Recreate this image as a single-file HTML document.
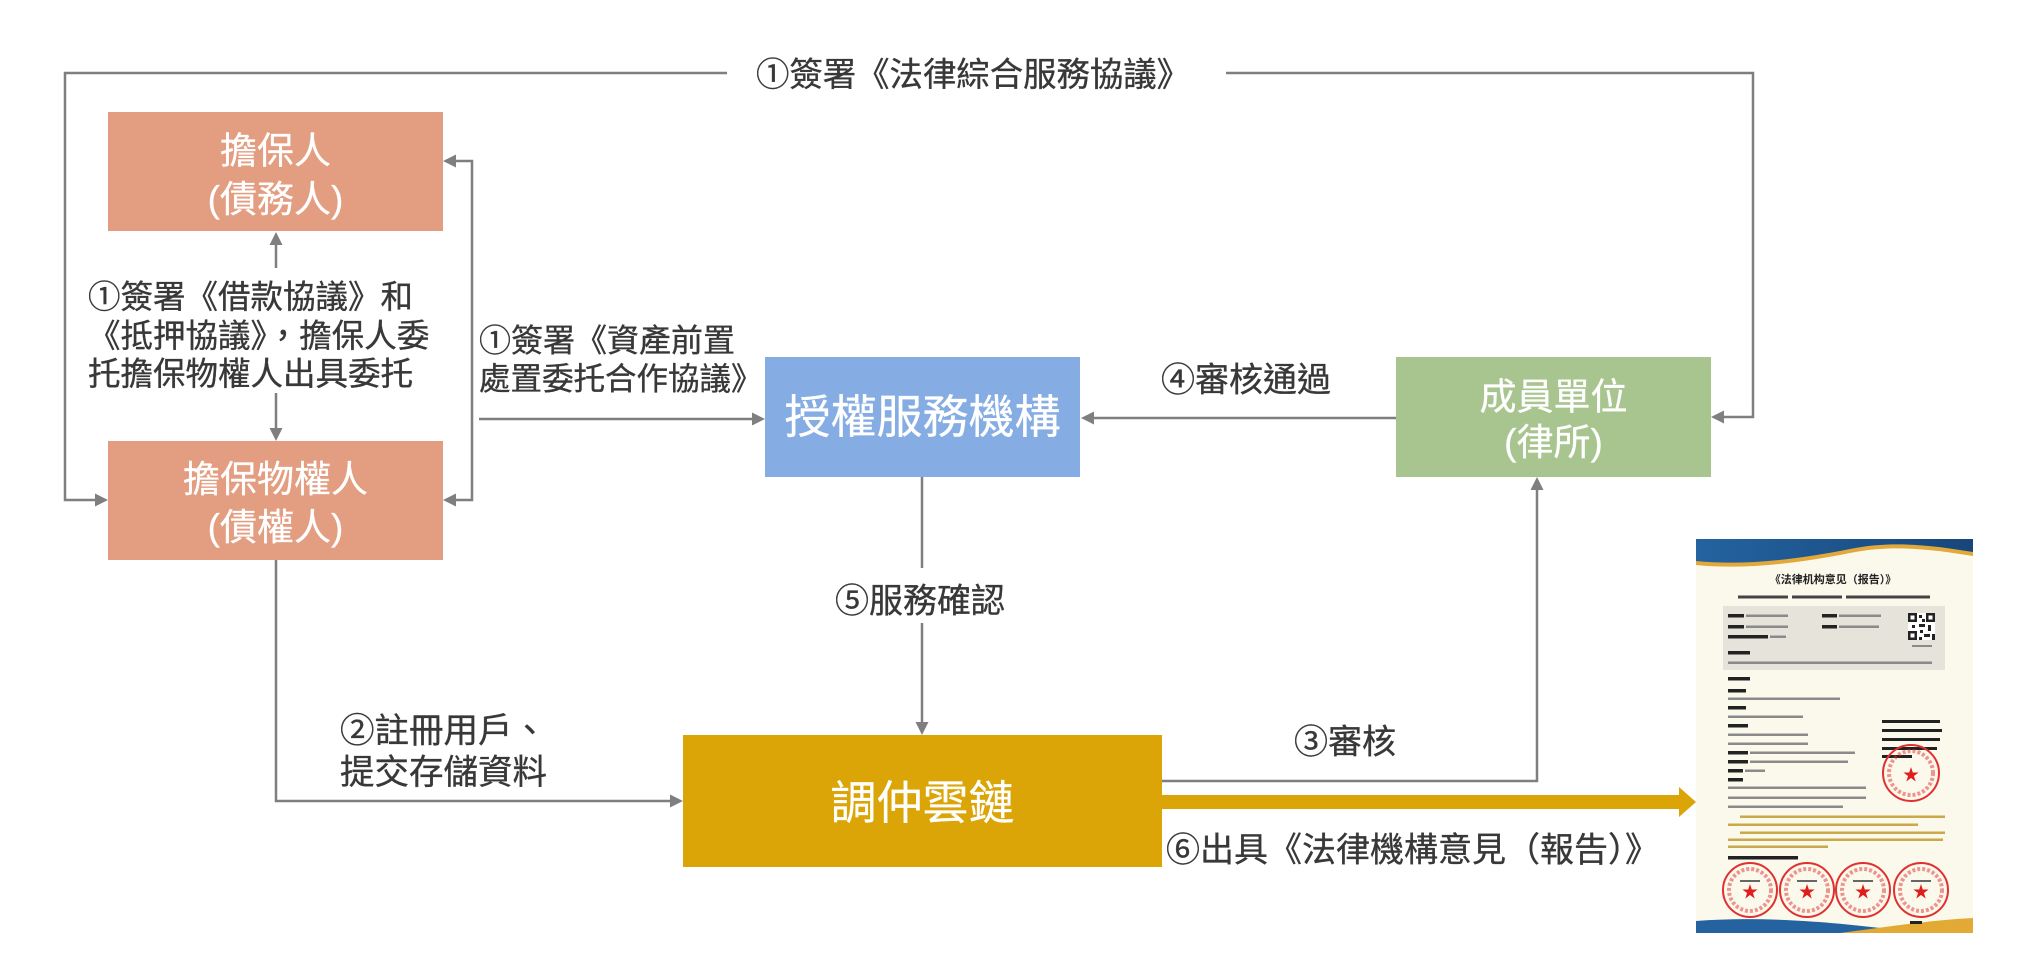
<!DOCTYPE html>
<html><head><meta charset="utf-8">
<style>
html,body{margin:0;padding:0;background:#fff;}
body{width:2036px;height:976px;overflow:hidden;}
svg{display:block;}
.lbl{font-family:"Liberation Sans","Noto Sans CJK TC",sans-serif;fill:#383838;stroke:#383838;stroke-width:0.35;}
.bx{font-family:"Liberation Sans","Noto Sans CJK TC",sans-serif;fill:#ffffff;stroke:#ffffff;stroke-width:0.3;}
</style></head>
<body>
<svg width="2036" height="976" viewBox="0 0 2036 976" xmlns="http://www.w3.org/2000/svg">
<defs>
<polygon id="star" points="0,-8 1.8,-2.48 7.61,-2.47 2.91,0.95 4.7,6.47 0,3.06 -4.7,6.47 -2.91,0.95 -7.61,-2.47 -1.8,-2.48" fill="#e01d1d"/>
<linearGradient id="bl" x1="0" y1="0" x2="1" y2="0"><stop offset="0" stop-color="#2463a0"/><stop offset="1" stop-color="#17467a"/></linearGradient>
</defs>

<!-- connectors -->
<g stroke="#7f7f7f" stroke-width="2.5" fill="none">
  <polyline points="727,73 65,73 65,500 97,500"/>
  <polyline points="1226,73 1753,73 1753,417 1722,417"/>
  <line x1="276" y1="268" x2="276" y2="243"/>
  <line x1="276" y1="393" x2="276" y2="430"/>
  <polyline points="454,161 472,161 472,500 454,500"/>
  <line x1="479" y1="419" x2="754" y2="419"/>
  <line x1="1396" y1="418" x2="1092" y2="418"/>
  <line x1="922" y1="477" x2="922" y2="568"/>
  <line x1="922" y1="623" x2="922" y2="724"/>
  <polyline points="276,560 276,801 672,801"/>
  <polyline points="1162,781 1537,781 1537,488"/>
</g>
<g fill="#7f7f7f">
  <polygon points="276,232 269.5,245 282.5,245"/>
  <polygon points="276,441 269.5,428 282.5,428"/>
  <polygon points="443,161 456,154.5 456,167.5"/>
  <polygon points="443,500 456,493.5 456,506.5"/>
  <polygon points="108,500 95,493.5 95,506.5"/>
  <polygon points="1711,417 1724,410.5 1724,423.5"/>
  <polygon points="765,419 752,412.5 752,425.5"/>
  <polygon points="1081,418 1094,411.5 1094,424.5"/>
  <polygon points="922,735 915.5,722 928.5,722"/>
  <polygon points="683,801 670,794.5 670,807.5"/>
  <polygon points="1537,477 1530.5,490 1543.5,490"/>
</g>

<!-- boxes -->
<rect x="108" y="112" width="335" height="119" fill="#e39d80"/>
<rect x="108" y="441" width="335" height="119" fill="#e39d80"/>
<rect x="765" y="357" width="315" height="120" fill="#86ade3"/>
<rect x="1396" y="357" width="315" height="120" fill="#a9c58f"/>
<rect x="683" y="735" width="479" height="132" fill="#dba508"/>

<!-- gold arrow -->
<rect x="1162" y="795" width="519" height="14" fill="#dba508"/>
<polygon points="1679,787 1696,802 1679,817" fill="#dba508"/>

<!-- box texts -->
<g class="bx" text-anchor="middle">
  <text x="275.5" y="163.5" font-size="37">擔保人</text>
  <text x="275.5" y="212" font-size="37">(債務人)</text>
  <text x="275.5" y="492" font-size="37">擔保物權人</text>
  <text x="275.5" y="540" font-size="37">(債權人)</text>
  <text x="922.5" y="433" font-size="46">授權服務機構</text>
  <text x="1553.5" y="409.5" font-size="37">成員單位</text>
  <text x="1553.5" y="455" font-size="37">(律所)</text>
  <text x="922.5" y="819" font-size="46">調仲雲鏈</text>
</g>

<!-- labels -->
<g class="lbl">
  <text x="756" y="86" font-size="33.4">①簽署《法律綜合服務協議》</text>
  <text x="88" y="308" font-size="32.5">①簽署《借款協議》和</text>
  <text x="88" y="347" font-size="32.5">《抵押協議》，擔保人委</text>
  <text x="88" y="385" font-size="32.5">托擔保物權人出具委托</text>
  <text x="479" y="351.5" font-size="32">①簽署《資產前置</text>
  <text x="479" y="389.5" font-size="31.5">處置委托合作協議》</text>
  <text x="1161" y="391.5" font-size="34">④審核通過</text>
  <text x="920" y="612.5" font-size="34" text-anchor="middle">⑤服務確認</text>
  <text x="340" y="742.5" font-size="34.5">②註冊用戶、</text>
  <text x="340" y="784" font-size="34.5">提交存儲資料</text>
  <text x="1294" y="753.5" font-size="34">③審核</text>
  <text x="1166" y="861.5" font-size="34">⑥出具《法律機構意見（報告）》</text>
</g>

<!-- document -->
<g>
  <rect x="1696" y="539" width="277" height="394" fill="#fbf8ec"/>
  <path d="M1696,539 H1973 V556 C1935,550 1895,544 1850,553 C1800,563 1745,570 1696,565 Z" fill="#e0a93a"/>
  <path d="M1696,539 H1973 V552 C1935,546 1895,540 1850,549 C1800,559 1745,566 1696,561 Z" fill="url(#bl)"/>
  <path d="M1696,921 C1760,916 1830,922 1880,928 C1915,932 1945,930 1973,926 V933 H1696 Z" fill="#2463a0"/>
  <path d="M1840,933 C1880,928 1930,920 1973,918 V933 Z" fill="#e2a934"/>
  <text x="1833" y="583" font-size="11" font-weight="bold" text-anchor="middle" fill="#222" font-family="'Liberation Sans','Noto Sans CJK SC',sans-serif">《法律机构意见（报告）》</text>
  <g fill="#444">
    <rect x="1738" y="595.5" width="50" height="3"/>
    <rect x="1792" y="595.5" width="50" height="3"/>
    <rect x="1846" y="595.5" width="84" height="3"/>
  </g>
  <rect x="1723" y="606" width="222" height="64" fill="#e6e3da"/>
  <g fill="#222">
    <rect x="1728" y="614" width="16" height="3.5"/><rect x="1822" y="614" width="15" height="3.5"/>
    <rect x="1728" y="625" width="16" height="3.5"/><rect x="1822" y="625" width="15" height="3.5"/>
    <rect x="1728" y="635" width="40" height="3.5"/>
    <rect x="1728" y="651" width="22" height="3.5"/>
  </g>
  <g fill="#8a8a8a">
    <rect x="1746" y="614.5" width="42" height="2.5"/><rect x="1839" y="614.5" width="42" height="2.5"/>
    <rect x="1746" y="625.5" width="42" height="2.5"/><rect x="1839" y="625.5" width="40" height="2.5"/>
    <rect x="1770" y="635.5" width="16" height="2.5"/>
    <rect x="1728" y="661.5" width="204" height="2.5"/>
    <rect x="1912" y="645" width="20" height="2"/>
  </g>
  <rect x="1908" y="613" width="27" height="27" fill="#fff"/>
  <g fill="#222">
    <rect x="1908" y="613" width="9" height="9"/><rect x="1926" y="613" width="9" height="9"/><rect x="1908" y="631" width="9" height="9"/>
    <rect x="1919" y="615" width="3" height="3"/><rect x="1922" y="619" width="3" height="3"/><rect x="1919" y="624" width="6" height="3"/>
    <rect x="1912" y="625" width="3" height="3"/><rect x="1928" y="625" width="3" height="6"/><rect x="1920" y="630" width="3" height="3"/>
    <rect x="1924" y="634" width="6" height="3"/><rect x="1932" y="634" width="3" height="6"/><rect x="1919" y="637" width="3" height="3"/>
  </g>
  <g fill="#fff"><rect x="1910.5" y="615.5" width="4" height="4"/><rect x="1928.5" y="615.5" width="4" height="4"/><rect x="1910.5" y="633.5" width="4" height="4"/></g>
  <g fill="#222">
    <rect x="1728" y="677" width="22" height="3.5"/>
    <rect x="1728" y="689" width="18" height="3.5"/>
    <rect x="1728" y="706" width="18" height="3.5"/>
    <rect x="1728" y="724" width="20" height="3.5"/>
    <rect x="1728" y="751" width="20" height="3.5"/>
    <rect x="1728" y="760" width="20" height="3.5"/>
    <rect x="1728" y="769" width="15" height="3.5"/>
    <rect x="1728" y="778" width="15" height="3.5"/>
    <rect x="1728" y="856" width="70" height="3.5"/>
    <rect x="1882" y="720" width="58" height="3"/>
    <rect x="1882" y="729" width="60" height="3"/>
    <rect x="1882" y="738" width="58" height="3"/>
    <rect x="1882" y="747" width="55" height="3"/>
    <rect x="1882" y="755" width="30" height="3"/>
    <rect x="1910" y="921" width="12" height="3"/>
  </g>
  <g fill="#8a8a8a">
    <rect x="1728" y="697.5" width="112" height="2.5"/>
    <rect x="1728" y="715.5" width="75" height="2.5"/>
    <rect x="1728" y="733.5" width="80" height="2.5"/>
    <rect x="1728" y="742.5" width="80" height="2.5"/>
    <rect x="1750" y="751.5" width="105" height="2.5"/>
    <rect x="1750" y="760.5" width="98" height="2.5"/>
    <rect x="1745" y="769.5" width="20" height="2.5"/>
    <rect x="1728" y="786.5" width="138" height="2.5"/>
    <rect x="1728" y="796.5" width="138" height="2.5"/>
    <rect x="1728" y="805.5" width="115" height="2.5"/>
  </g>
  <g fill="#c9a94a">
    <rect x="1740" y="815.5" width="205" height="2.5"/>
    <rect x="1728" y="823.5" width="190" height="2.5"/>
    <rect x="1740" y="831.5" width="205" height="2.5"/>
    <rect x="1728" y="838.5" width="215" height="2.5"/>
    <rect x="1728" y="845.5" width="100" height="2.5"/>
  </g>
  <g fill="none" stroke="#e03030">
    <circle cx="1911" cy="773" r="28" stroke-width="2"/>
    <circle cx="1911" cy="773" r="22" stroke-width="4" stroke-dasharray="3 2" opacity="0.5"/>
    <circle cx="1750" cy="890" r="27" stroke-width="2"/>
    <circle cx="1750" cy="890" r="21" stroke-width="4" stroke-dasharray="3 2" opacity="0.5"/>
    <circle cx="1807" cy="890" r="27" stroke-width="2"/>
    <circle cx="1807" cy="890" r="21" stroke-width="4" stroke-dasharray="3 2" opacity="0.5"/>
    <circle cx="1863" cy="890" r="27" stroke-width="2"/>
    <circle cx="1863" cy="890" r="21" stroke-width="4" stroke-dasharray="3 2" opacity="0.5"/>
    <circle cx="1921" cy="890" r="27" stroke-width="2"/>
    <circle cx="1921" cy="890" r="21" stroke-width="4" stroke-dasharray="3 2" opacity="0.5"/>
  </g>
  <g fill="#666">
    <rect x="1740" y="880" width="20" height="2"/>
    <rect x="1797" y="880" width="20" height="2"/>
    <rect x="1853" y="880" width="20" height="2"/>
    <rect x="1911" y="880" width="20" height="2"/>
  </g>
  <use href="#star" x="1911" y="775"/>
  <use href="#star" x="1750" y="892"/>
  <use href="#star" x="1807" y="892"/>
  <use href="#star" x="1863" y="892"/>
  <use href="#star" x="1921" y="892"/>
</g>
</svg>
</body></html>
